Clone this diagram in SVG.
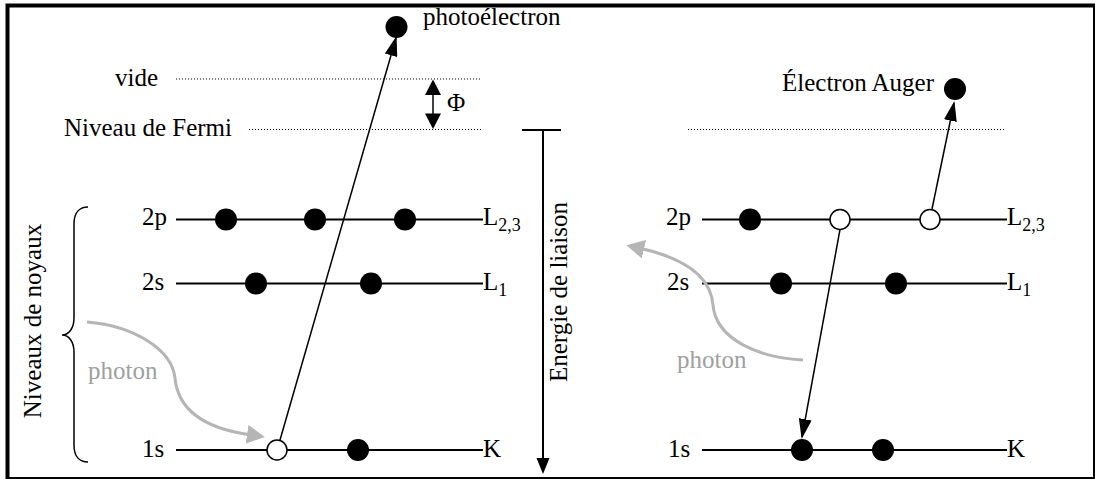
<svg xmlns="http://www.w3.org/2000/svg" width="1095" height="479" viewBox="0 0 1095 479">
<style>
text{font-family:"Liberation Serif","Times New Roman",serif;font-size:25px;fill:#000}
.sub{font-size:18px}
.lvl{stroke:#000;stroke-width:2;fill:none}
.dot{stroke:none;fill:#000}
.hole{fill:#fff;stroke:#000;stroke-width:1.5}
.dotted{stroke:#000;stroke-width:1;stroke-dasharray:1 2;fill:none}
.arrow{stroke:#000;stroke-width:1.5;fill:none;marker-end:url(#ah)}
.photon{stroke:#b5b5b5;stroke-width:3;fill:none;marker-end:url(#gah)}
.ptxt{fill:#a0a0a0}
</style>
<defs>
<marker id="ah" markerUnits="userSpaceOnUse" markerWidth="20" markerHeight="13" refX="18" refY="6.5" orient="auto">
<path d="M0,0 L20,6.5 L0,13 z" fill="#000"/>
</marker>
<marker id="gah" markerUnits="userSpaceOnUse" markerWidth="18" markerHeight="19" refX="1" refY="9.5" orient="auto">
<path d="M0,0 L18,9.5 L0,19 z" fill="#b5b5b5"/>
</marker>
</defs>
<rect id="frame" x="7.5" y="5.5" width="1087.5" height="473.5" fill="#fff" stroke="#000" stroke-width="4"/>

<g id="reference-lines">
<line class="dotted" x1="176" y1="79" x2="482" y2="79"/>
<line class="dotted" x1="249" y1="129.5" x2="482" y2="129.5"/>
<line class="dotted" x1="688" y1="129.5" x2="1006" y2="129.5"/>
<text x="115" y="86">vide</text>
<text x="64" y="136">Niveau de Fermi</text>
</g>

<g id="phi">
<line x1="433" y1="94" x2="433" y2="114" stroke="#000" stroke-width="1.5"/>
<polygon points="433,79.5 425,95 441,95" fill="#000"/>
<polygon points="433,129 425,113.5 441,113.5" fill="#000"/>
<text x="447" y="111">Φ</text>
</g>

<g id="energie">
<line x1="522" y1="130" x2="561" y2="130" stroke="#000" stroke-width="2"/>
<line x1="543" y1="130" x2="543" y2="459" stroke="#000" stroke-width="2"/>
<polygon points="536.5,458 549.5,458 543,474" fill="#000"/>
<text transform="translate(567,382) rotate(-90)">Energie de liaison</text>
</g>

<g id="noyaux">
<path d="M88,207 C80,207 74,212 74,224 L74,318 C74,328 69,335 62,335 C69,335 74,342 74,352 L74,445 C74,457 80,462 88,462" fill="none" stroke="#000" stroke-width="1.5"/>
<text transform="translate(41,321) rotate(-90)" text-anchor="middle">Niveaux de noyaux</text>
</g>

<g id="left-levels">
<line class="lvl" x1="176" y1="219.5" x2="483" y2="219.5"/>
<line class="lvl" x1="176" y1="283.5" x2="483" y2="283.5"/>
<line class="lvl" x1="176" y1="450" x2="483" y2="450"/>
<text x="142" y="225">2p</text>
<text x="142" y="290">2s</text>
<text x="142" y="457">1s</text>
<text x="483" y="225">L<tspan class="sub" dy="6">2,3</tspan></text>
<text x="483" y="290">L<tspan class="sub" dy="6">1</tspan></text>
<text x="483" y="457">K</text>
</g>

<g id="left-electrons">
<circle class="dot" cx="226" cy="219.5" r="11"/>
<circle class="dot" cx="315" cy="219.5" r="11"/>
<circle class="dot" cx="405" cy="219.5" r="11"/>
<circle class="dot" cx="256" cy="283.5" r="11"/>
<circle class="dot" cx="371" cy="283.5" r="11"/>
<circle class="hole" cx="277" cy="450" r="10"/>
<circle class="dot" cx="358" cy="450" r="11"/>
</g>

<g id="photoelectron">
<circle class="dot" cx="396.5" cy="27" r="11"/>
<text x="423" y="25">photoélectron</text>
</g>

<g id="right-levels">
<line class="lvl" x1="702" y1="219.5" x2="1007" y2="219.5"/>
<line class="lvl" x1="702" y1="283.5" x2="1007" y2="283.5"/>
<line class="lvl" x1="702" y1="450" x2="1007" y2="450"/>
<text x="666" y="225">2p</text>
<text x="667" y="290">2s</text>
<text x="668" y="457">1s</text>
<text x="1007" y="225">L<tspan class="sub" dy="6">2,3</tspan></text>
<text x="1007" y="290">L<tspan class="sub" dy="6">1</tspan></text>
<text x="1007" y="457">K</text>
</g>

<g id="right-electrons">
<circle class="dot" cx="750" cy="219.5" r="11"/>
<circle class="hole" cx="840" cy="219.5" r="10"/>
<circle class="hole" cx="930" cy="219.5" r="10"/>
<circle class="dot" cx="781" cy="283.5" r="11"/>
<circle class="dot" cx="896" cy="283.5" r="11"/>
<circle class="dot" cx="802" cy="450" r="11"/>
<circle class="dot" cx="883" cy="450" r="11"/>
</g>

<g id="auger">
<circle class="dot" cx="955" cy="89" r="11"/>
<text x="782" y="91">Électron Auger</text>
</g>

<g id="connectors">
<line class="arrow" x1="280" y1="440" x2="396" y2="38"/>
<line class="arrow" x1="932" y1="209" x2="954" y2="103"/>
<line class="arrow" x1="840" y1="229.5" x2="802" y2="437"/>
<path class="photon" d="M87,322 C135,326 172,350 175,378 C178,410 205,428 248,434.5"/>
<path class="photon" d="M803,360 C760,358 716,340 713,305 C711,280 690,260 643,249"/>
<text class="ptxt" x="88" y="379">photon</text>
<text class="ptxt" x="677" y="368">photon</text>
</g>
</svg>
